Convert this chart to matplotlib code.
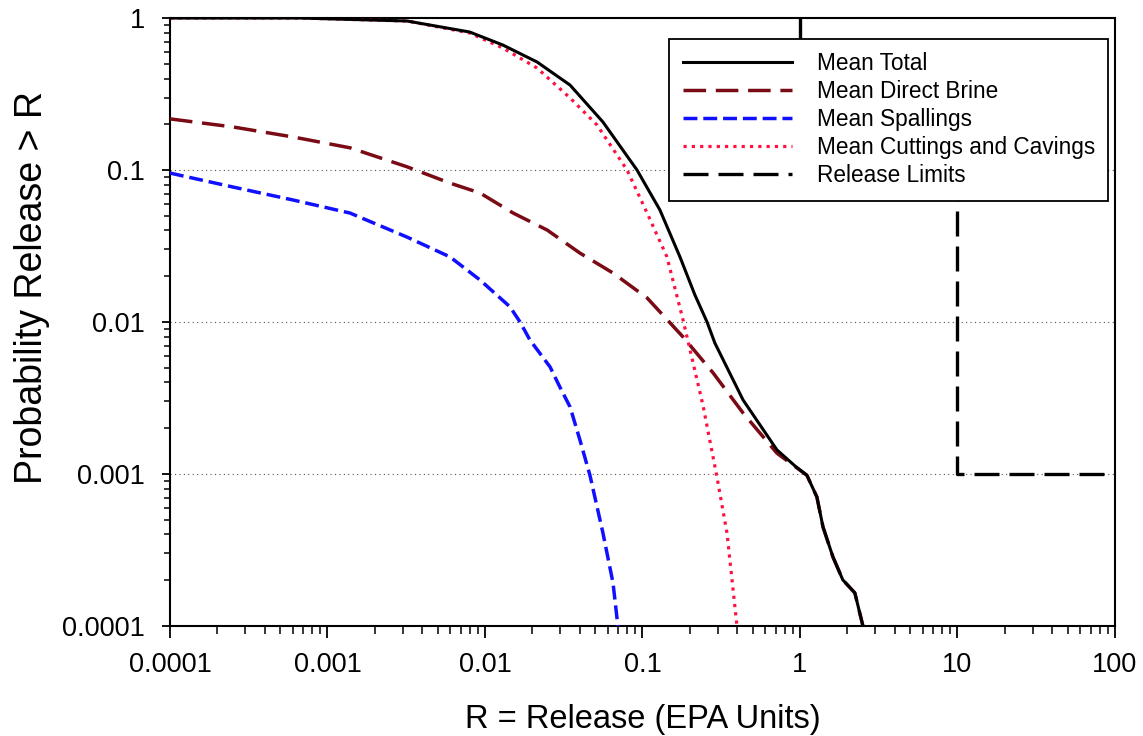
import numpy as np
import matplotlib
matplotlib.use('Agg')
import matplotlib.pyplot as plt
from matplotlib.ticker import LogLocator, FixedLocator, FuncFormatter, NullFormatter

plt.rcParams['font.family'] = ['Liberation Sans', 'DejaVu Sans']

# values (R in EPA units, probability release > R)
total_r = [1e-4, 6.7e-4, 3.2e-3, 8.0e-3, 0.013, 0.0214, 0.0347, 0.0561, 0.0923, 0.129,
           0.173, 0.215, 0.257, 0.288, 0.435, 0.714, 0.929, 1.107, 1.28, 1.40, 1.62,
           1.87, 2.23, 2.51]
total_p = [1.0, 1.0, 0.956, 0.809, 0.664, 0.514, 0.362, 0.207, 0.1, 0.0546,
           0.0268, 0.0151, 0.01, 0.00728, 0.00307, 0.00144, 0.00113, 0.00098, 0.000706, 0.000448,
           0.000284, 0.000201, 0.000165, 0.0001]

brine_r = [1e-4, 2.51e-4, 6.04e-4, 0.00139, 0.0032, 0.0060, 0.0093, 0.0151, 0.0248, 0.0401,
           0.065, 0.107, 0.181, 0.281, 0.435, 0.714, 1.107, 1.28, 1.40, 1.62, 1.87, 2.23, 2.51]
brine_p = [0.217, 0.192, 0.165, 0.140, 0.105, 0.082, 0.0706, 0.0521, 0.0403, 0.0284,
           0.0210, 0.0144, 0.00797, 0.00462, 0.00252, 0.00137, 0.00098, 0.000706, 0.000448,
           0.000284, 0.000201, 0.000165, 0.0001]

spall_r = [1e-4, 2.51e-4, 6.04e-4, 0.00139, 0.0032, 0.0060, 0.0093, 0.0144, 0.0167, 0.0193,
           0.0259, 0.0299, 0.0347, 0.0401, 0.0464, 0.0561, 0.065, 0.0698]
spall_p = [0.0955, 0.0773, 0.0635, 0.0521, 0.0362, 0.0268, 0.0189, 0.0126, 0.01, 0.00761,
           0.00506, 0.00373, 0.00276, 0.00167, 0.00098, 0.000409, 0.000192, 0.0001]

cut_r = [1e-4, 6.7e-4, 3.2e-3, 8.0e-3, 0.013, 0.0214, 0.0347, 0.0514, 0.0798, 0.107,
         0.143, 0.181, 0.242, 0.297, 0.344, 0.398]
cut_p = [1.0, 1.0, 0.956, 0.797, 0.635, 0.469, 0.298, 0.198, 0.1, 0.0521,
         0.0268, 0.0103, 0.00284, 0.000955, 0.000409, 0.0001]

limit_r = [1, 1, 10, 10, 100]
limit_p = [1, 0.1, 0.1, 0.001, 0.001]

x_ticks = [1e-4, 1e-3, 1e-2, 1e-1, 1, 10, 100]
y_ticks = [1e-4, 1e-3, 1e-2, 1e-1, 1]

fig = plt.figure(figsize=(11.43, 7.36), dpi=100)
ax = fig.add_axes([0.1487, 0.1495, 0.8268, 0.826])

ax.plot(total_r, total_p, color='black', lw=2.2, label='Mean Total', zorder=5)
ax.plot(brine_r, brine_p, color='#7a0a14', lw=2.5, dashes=(6.5, 2.8), label='Mean Direct Brine', zorder=4)
ax.plot(spall_r, spall_p, color='#1010ff', lw=2.5, dashes=(4, 1.7), label='Mean Spallings', zorder=4)
ax.plot(cut_r, cut_p, color='#ff1040', lw=2.3, dashes=(1, 1.6), label='Mean Cuttings and Cavings', zorder=4)
ax.plot(limit_r, limit_p, color='black', lw=2.4, dashes=(7.5, 3), label='Release Limits', zorder=3)

ax.set_xscale('log')
ax.set_yscale('log')
ax.set_xlim(1e-4, 100)
ax.set_ylim(1e-4, 1)

fmt = FuncFormatter(lambda v, pos: ('%.4f' % v).rstrip('0').rstrip('.'))
ax.xaxis.set_major_locator(FixedLocator(x_ticks))
ax.yaxis.set_major_locator(FixedLocator(y_ticks))
ax.xaxis.set_major_formatter(fmt)
ax.yaxis.set_major_formatter(fmt)
ax.xaxis.set_minor_locator(LogLocator(base=10, subs=np.arange(2, 10), numticks=20))
ax.yaxis.set_minor_locator(LogLocator(base=10, subs=np.arange(2, 10), numticks=20))
ax.xaxis.set_minor_formatter(NullFormatter())
ax.yaxis.set_minor_formatter(NullFormatter())

ax.tick_params(axis='x', which='major', direction='out', length=8.5, width=1.3, labelsize=19.5, pad=10)
ax.tick_params(axis='x', which='minor', direction='out', length=5.5, width=1.1)
ax.tick_params(axis='y', which='major', direction='out', length=6, width=1.3, labelsize=19.5, pad=12)
ax.tick_params(axis='y', which='minor', direction='out', length=4, width=1.1)
for s in ax.spines.values():
    s.set_linewidth(1.5)

ax.yaxis.grid(True, which='major', color='#555555', lw=0.8, dashes=(1, 3))
ax.set_axisbelow(True)

ax.set_xlabel('R = Release (EPA Units)', fontsize=23.5, labelpad=19)
ax.set_ylabel('Probability Release > R', fontsize=27)
ax.yaxis.set_label_coords(-0.127, 0.556)

leg = ax.legend(loc='upper right', bbox_to_anchor=(0.993, 0.966), fontsize=16.3,
                handlelength=4.8, handletextpad=1.1, labelspacing=0.22,
                borderpad=0.6, borderaxespad=0, fancybox=False, framealpha=1,
                edgecolor='black')
leg.get_frame().set_linewidth(1.3)
leg.set_zorder(10)

fig.savefig('out.png', dpi=100)
